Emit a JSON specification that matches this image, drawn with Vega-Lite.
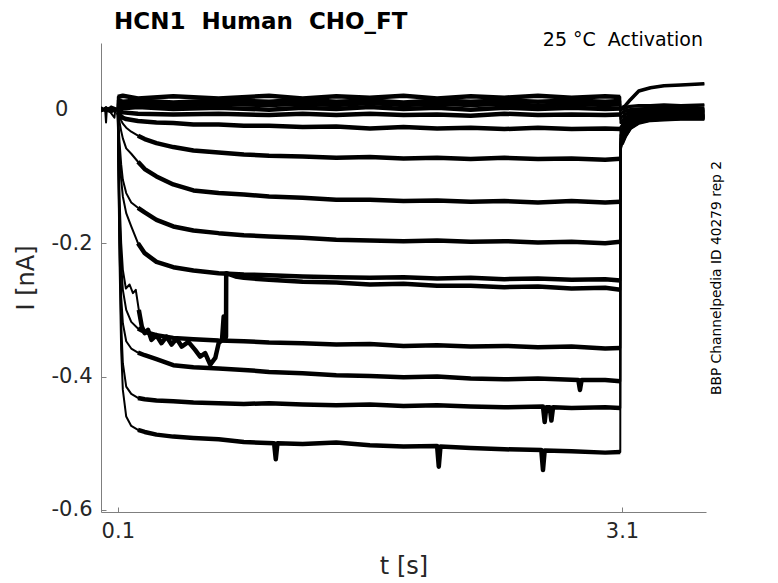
{
  "$schema": "https://vega.github.io/schema/vega-lite/v6.json",
  "width": 605,
  "height": 469,
  "autosize": {"type": "none"},
  "padding": {"left": 101, "top": 43, "right": 72, "bottom": 71},
  "background": "white",
  "title": {
    "text": "HCN1 \u00a0Human \u00a0CHO_FT",
    "anchor": "start",
    "frame": "group",
    "font": "DejaVu Sans",
    "fontSize": 23,
    "fontWeight": "bold",
    "color": "black",
    "baseline": "alphabetic",
    "offset": 4,
    "dx": 13,
    "dy": 25
  },
  "config": {
    "view": {"stroke": null},
    "font": "DejaVu Sans",
    "axis": {
      "grid": false,
      "domainColor": "#7f7f7f",
      "tickColor": "#7f7f7f",
      "labelColor": "#262626",
      "titleColor": "#262626",
      "labelFont": "DejaVu Sans",
      "titleFont": "DejaVu Sans",
      "titleFontWeight": "normal",
      "labelFontSize": 21,
      "titleFontSize": 24,
      "tickSize": -5,
      "domainWidth": 1
    }
  },
  "datasets": {
    "traces": [
      {"k":1,"t":0,"i":0.004},{"k":1,"t":0.03,"i":-0.002},{"k":1,"t":0.06,"i":0.005},{"k":1,"t":0.099,"i":0.001},
      {"k":1,"t":0.1,"i":0.019},{"k":1,"t":0.13,"i":0.021},{"k":1,"t":0.22,"i":0.017},{"k":1,"t":0.43,"i":0.02},{"k":1,"t":0.7,"i":0.017},{"k":1,"t":1.0,"i":0.021},{"k":1,"t":1.2,"i":0.017},{"k":1,"t":1.4,"i":0.02},{"k":1,"t":1.6,"i":0.018},{"k":1,"t":1.8,"i":0.021},{"k":1,"t":2.0,"i":0.017},{"k":1,"t":2.2,"i":0.02},{"k":1,"t":2.4,"i":0.018},{"k":1,"t":2.6,"i":0.021},{"k":1,"t":2.8,"i":0.018},{"k":1,"t":3.0,"i":0.02},{"k":1,"t":3.09,"i":0.019},
      {"k":1,"t":3.091,"i":0.002},{"k":1,"t":3.1,"i":0.003},{"k":1,"t":3.12,"i":0.006},{"k":1,"t":3.15,"i":0.015},{"k":1,"t":3.2,"i":0.028},{"k":1,"t":3.27,"i":0.033},{"k":1,"t":3.35,"i":0.036},{"k":1,"t":3.45,"i":0.037},{"k":1,"t":3.59,"i":0.039},

      {"k":2,"t":0,"i":-0.002},{"k":2,"t":0.03,"i":0.004},{"k":2,"t":0.06,"i":-0.003},{"k":2,"t":0.099,"i":0.002},
      {"k":2,"t":0.1,"i":0.014},{"k":2,"t":0.13,"i":0.012},{"k":2,"t":0.22,"i":0.014},{"k":2,"t":0.43,"i":0.011},{"k":2,"t":0.7,"i":0.014},{"k":2,"t":1.0,"i":0.012},{"k":2,"t":1.2,"i":0.015},{"k":2,"t":1.4,"i":0.012},{"k":2,"t":1.6,"i":0.014},{"k":2,"t":1.8,"i":0.011},{"k":2,"t":2.0,"i":0.014},{"k":2,"t":2.2,"i":0.012},{"k":2,"t":2.4,"i":0.014},{"k":2,"t":2.6,"i":0.012},{"k":2,"t":2.8,"i":0.014},{"k":2,"t":3.0,"i":0.012},{"k":2,"t":3.09,"i":0.013},
      {"k":2,"t":3.091,"i":-0.002},{"k":2,"t":3.1,"i":0.0},{"k":2,"t":3.12,"i":0.003},{"k":2,"t":3.15,"i":0.005},{"k":2,"t":3.2,"i":0.006},{"k":2,"t":3.27,"i":0.006},{"k":2,"t":3.35,"i":0.007},{"k":2,"t":3.45,"i":0.006},{"k":2,"t":3.59,"i":0.007},

      {"k":3,"t":0,"i":0.001},{"k":3,"t":0.025,"i":-0.001},{"k":3,"t":0.03,"i":-0.019},{"k":3,"t":0.035,"i":0.002},{"k":3,"t":0.06,"i":-0.004},{"k":3,"t":0.099,"i":0.0},
      {"k":3,"t":0.1,"i":0.009},{"k":3,"t":0.13,"i":0.007},{"k":3,"t":0.22,"i":0.009},{"k":3,"t":0.43,"i":0.006},{"k":3,"t":0.7,"i":0.009},{"k":3,"t":1.0,"i":0.007},{"k":3,"t":1.2,"i":0.009},{"k":3,"t":1.4,"i":0.007},{"k":3,"t":1.6,"i":0.01},{"k":3,"t":1.8,"i":0.007},{"k":3,"t":2.0,"i":0.009},{"k":3,"t":2.2,"i":0.007},{"k":3,"t":2.4,"i":0.009},{"k":3,"t":2.6,"i":0.006},{"k":3,"t":2.8,"i":0.009},{"k":3,"t":3.0,"i":0.007},{"k":3,"t":3.09,"i":0.008},
      {"k":3,"t":3.091,"i":-0.008},{"k":3,"t":3.1,"i":-0.005},{"k":3,"t":3.12,"i":-0.002},{"k":3,"t":3.15,"i":0.0},{"k":3,"t":3.2,"i":0.001},{"k":3,"t":3.27,"i":0.002},{"k":3,"t":3.35,"i":0.002},{"k":3,"t":3.45,"i":0.003},{"k":3,"t":3.59,"i":0.002},

      {"k":4,"t":0,"i":0.0},{"k":4,"t":0.03,"i":0.003},{"k":4,"t":0.06,"i":-0.005},{"k":4,"t":0.08,"i":-0.012},{"k":4,"t":0.085,"i":0.0},{"k":4,"t":0.099,"i":-0.001},
      {"k":4,"t":0.1,"i":0.004},{"k":4,"t":0.13,"i":0.002},{"k":4,"t":0.22,"i":0.004},{"k":4,"t":0.43,"i":0.001},{"k":4,"t":0.7,"i":0.003},{"k":4,"t":1.0,"i":0.0},{"k":4,"t":1.2,"i":0.003},{"k":4,"t":1.4,"i":0.001},{"k":4,"t":1.6,"i":0.004},{"k":4,"t":1.8,"i":0.001},{"k":4,"t":2.0,"i":0.003},{"k":4,"t":2.2,"i":0.0},{"k":4,"t":2.4,"i":0.003},{"k":4,"t":2.6,"i":0.001},{"k":4,"t":2.8,"i":0.003},{"k":4,"t":3.0,"i":0.001},{"k":4,"t":3.09,"i":0.002},
      {"k":4,"t":3.091,"i":-0.014},{"k":4,"t":3.1,"i":-0.011},{"k":4,"t":3.12,"i":-0.007},{"k":4,"t":3.15,"i":-0.004},{"k":4,"t":3.2,"i":-0.002},{"k":4,"t":3.27,"i":-0.001},{"k":4,"t":3.35,"i":0.0},{"k":4,"t":3.45,"i":-0.001},{"k":4,"t":3.59,"i":0.0},

      {"k":5,"t":0,"i":-0.003},{"k":5,"t":0.03,"i":0.002},{"k":5,"t":0.06,"i":0.001},{"k":5,"t":0.099,"i":0.0},
      {"k":5,"t":0.1,"i":-0.002},{"k":5,"t":0.13,"i":-0.004},{"k":5,"t":0.22,"i":-0.006},{"k":5,"t":0.43,"i":-0.007},{"k":5,"t":0.7,"i":-0.006},{"k":5,"t":1.0,"i":-0.008},{"k":5,"t":1.2,"i":-0.006},{"k":5,"t":1.4,"i":-0.008},{"k":5,"t":1.6,"i":-0.006},{"k":5,"t":1.8,"i":-0.008},{"k":5,"t":2.0,"i":-0.007},{"k":5,"t":2.2,"i":-0.009},{"k":5,"t":2.4,"i":-0.006},{"k":5,"t":2.6,"i":-0.008},{"k":5,"t":2.8,"i":-0.007},{"k":5,"t":3.0,"i":-0.008},{"k":5,"t":3.09,"i":-0.007},
      {"k":5,"t":3.091,"i":-0.02},{"k":5,"t":3.1,"i":-0.017},{"k":5,"t":3.12,"i":-0.012},{"k":5,"t":3.15,"i":-0.008},{"k":5,"t":3.2,"i":-0.005},{"k":5,"t":3.27,"i":-0.004},{"k":5,"t":3.35,"i":-0.003},{"k":5,"t":3.45,"i":-0.003},{"k":5,"t":3.59,"i":-0.002},

      {"k":6,"t":0,"i":0.002},{"k":6,"t":0.03,"i":-0.003},{"k":6,"t":0.06,"i":0.003},{"k":6,"t":0.099,"i":0.0},
      {"k":6,"t":0.1,"i":-0.004},{"k":6,"t":0.11,"i":-0.008},{"k":6,"t":0.13,"i":-0.012},{"k":6,"t":0.15,"i":-0.014},{"k":6,"t":0.22,"i":-0.017},{"k":6,"t":0.33,"i":-0.019},{"k":6,"t":0.43,"i":-0.02},{"k":6,"t":0.55,"i":-0.022},{"k":6,"t":0.7,"i":-0.022},{"k":6,"t":0.85,"i":-0.024},{"k":6,"t":1.0,"i":-0.024},{"k":6,"t":1.2,"i":-0.026},{"k":6,"t":1.4,"i":-0.025},{"k":6,"t":1.6,"i":-0.028},{"k":6,"t":1.8,"i":-0.026},{"k":6,"t":2.0,"i":-0.028},{"k":6,"t":2.2,"i":-0.027},{"k":6,"t":2.4,"i":-0.029},{"k":6,"t":2.6,"i":-0.027},{"k":6,"t":2.8,"i":-0.029},{"k":6,"t":3.0,"i":-0.028},{"k":6,"t":3.09,"i":-0.029},
      {"k":6,"t":3.091,"i":-0.026},{"k":6,"t":3.1,"i":-0.022},{"k":6,"t":3.12,"i":-0.016},{"k":6,"t":3.15,"i":-0.011},{"k":6,"t":3.2,"i":-0.007},{"k":6,"t":3.27,"i":-0.005},{"k":6,"t":3.35,"i":-0.004},{"k":6,"t":3.45,"i":-0.004},{"k":6,"t":3.59,"i":-0.003},

      {"k":7,"t":0,"i":-0.001},{"k":7,"t":0.03,"i":0.003},{"k":7,"t":0.06,"i":-0.002},{"k":7,"t":0.099,"i":0.001},
      {"k":7,"t":0.1,"i":-0.002},{"k":7,"t":0.105,"i":-0.006},{"k":7,"t":0.11,"i":-0.01},{"k":7,"t":0.12,"i":-0.016},{"k":7,"t":0.13,"i":-0.021},{"k":7,"t":0.15,"i":-0.027},{"k":7,"t":0.18,"i":-0.033},{"k":7,"t":0.22,"i":-0.039},{"k":7,"t":0.26,"i":-0.044},{"k":7,"t":0.33,"i":-0.05},{"k":7,"t":0.43,"i":-0.056},{"k":7,"t":0.55,"i":-0.061},{"k":7,"t":0.7,"i":-0.064},{"k":7,"t":0.85,"i":-0.067},{"k":7,"t":1.0,"i":-0.069},{"k":7,"t":1.2,"i":-0.07},{"k":7,"t":1.4,"i":-0.072},{"k":7,"t":1.6,"i":-0.071},{"k":7,"t":1.8,"i":-0.073},{"k":7,"t":2.0,"i":-0.072},{"k":7,"t":2.2,"i":-0.074},{"k":7,"t":2.4,"i":-0.072},{"k":7,"t":2.6,"i":-0.074},{"k":7,"t":2.8,"i":-0.073},{"k":7,"t":3.0,"i":-0.075},{"k":7,"t":3.09,"i":-0.0735},
      {"k":7,"t":3.091,"i":-0.032},{"k":7,"t":3.1,"i":-0.027},{"k":7,"t":3.12,"i":-0.02},{"k":7,"t":3.15,"i":-0.014},{"k":7,"t":3.2,"i":-0.009},{"k":7,"t":3.27,"i":-0.007},{"k":7,"t":3.35,"i":-0.006},{"k":7,"t":3.45,"i":-0.005},{"k":7,"t":3.59,"i":-0.005},

      {"k":8,"t":0,"i":0.003},{"k":8,"t":0.03,"i":-0.002},{"k":8,"t":0.06,"i":0.002},{"k":8,"t":0.099,"i":0.0},
      {"k":8,"t":0.1,"i":-0.003},{"k":8,"t":0.105,"i":-0.01},{"k":8,"t":0.11,"i":-0.018},{"k":8,"t":0.12,"i":-0.032},{"k":8,"t":0.13,"i":-0.043},{"k":8,"t":0.15,"i":-0.058},{"k":8,"t":0.18,"i":-0.066},{"k":8,"t":0.22,"i":-0.078},{"k":8,"t":0.26,"i":-0.089},{"k":8,"t":0.33,"i":-0.1},{"k":8,"t":0.43,"i":-0.112},{"k":8,"t":0.55,"i":-0.121},{"k":8,"t":0.7,"i":-0.125},{"k":8,"t":0.85,"i":-0.127},{"k":8,"t":1.0,"i":-0.13},{"k":8,"t":1.2,"i":-0.132},{"k":8,"t":1.4,"i":-0.135},{"k":8,"t":1.6,"i":-0.135},{"k":8,"t":1.8,"i":-0.137},{"k":8,"t":2.0,"i":-0.136},{"k":8,"t":2.2,"i":-0.138},{"k":8,"t":2.4,"i":-0.137},{"k":8,"t":2.6,"i":-0.139},{"k":8,"t":2.8,"i":-0.137},{"k":8,"t":3.0,"i":-0.139},{"k":8,"t":3.09,"i":-0.138},
      {"k":8,"t":3.091,"i":-0.038},{"k":8,"t":3.1,"i":-0.032},{"k":8,"t":3.12,"i":-0.024},{"k":8,"t":3.15,"i":-0.017},{"k":8,"t":3.2,"i":-0.011},{"k":8,"t":3.27,"i":-0.009},{"k":8,"t":3.35,"i":-0.008},{"k":8,"t":3.45,"i":-0.007},{"k":8,"t":3.59,"i":-0.007},

      {"k":9,"t":0,"i":-0.002},{"k":9,"t":0.05,"i":0.002},{"k":9,"t":0.099,"i":0.0},
      {"k":9,"t":0.1,"i":-0.004},{"k":9,"t":0.105,"i":-0.025},{"k":9,"t":0.11,"i":-0.048},{"k":9,"t":0.12,"i":-0.082},{"k":9,"t":0.13,"i":-0.105},{"k":9,"t":0.15,"i":-0.125},{"k":9,"t":0.18,"i":-0.139},{"k":9,"t":0.22,"i":-0.147},{"k":9,"t":0.26,"i":-0.154},{"k":9,"t":0.33,"i":-0.165},{"k":9,"t":0.43,"i":-0.175},{"k":9,"t":0.55,"i":-0.181},{"k":9,"t":0.7,"i":-0.185},{"k":9,"t":0.85,"i":-0.188},{"k":9,"t":1.0,"i":-0.19},{"k":9,"t":1.2,"i":-0.192},{"k":9,"t":1.4,"i":-0.195},{"k":9,"t":1.6,"i":-0.196},{"k":9,"t":1.8,"i":-0.197},{"k":9,"t":2.0,"i":-0.196},{"k":9,"t":2.2,"i":-0.198},{"k":9,"t":2.4,"i":-0.197},{"k":9,"t":2.6,"i":-0.199},{"k":9,"t":2.8,"i":-0.198},{"k":9,"t":3.0,"i":-0.2},{"k":9,"t":3.09,"i":-0.198},
      {"k":9,"t":3.091,"i":-0.044},{"k":9,"t":3.1,"i":-0.037},{"k":9,"t":3.12,"i":-0.028},{"k":9,"t":3.15,"i":-0.02},{"k":9,"t":3.2,"i":-0.013},{"k":9,"t":3.27,"i":-0.01},{"k":9,"t":3.35,"i":-0.009},{"k":9,"t":3.45,"i":-0.008},{"k":9,"t":3.59,"i":-0.008},

      {"k":10,"t":0,"i":0.001},{"k":10,"t":0.05,"i":-0.003},{"k":10,"t":0.099,"i":0.001},
      {"k":10,"t":0.1,"i":-0.005},{"k":10,"t":0.105,"i":-0.035},{"k":10,"t":0.11,"i":-0.065},{"k":10,"t":0.12,"i":-0.105},{"k":10,"t":0.13,"i":-0.13},{"k":10,"t":0.15,"i":-0.155},{"k":10,"t":0.18,"i":-0.175},{"k":10,"t":0.22,"i":-0.2},{"k":10,"t":0.26,"i":-0.215},{"k":10,"t":0.33,"i":-0.228},{"k":10,"t":0.43,"i":-0.236},{"k":10,"t":0.55,"i":-0.241},{"k":10,"t":0.7,"i":-0.245},{"k":10,"t":0.85,"i":-0.247},{"k":10,"t":1.0,"i":-0.248},{"k":10,"t":1.2,"i":-0.25},{"k":10,"t":1.4,"i":-0.251},{"k":10,"t":1.6,"i":-0.252},{"k":10,"t":1.8,"i":-0.251},{"k":10,"t":2.0,"i":-0.253},{"k":10,"t":2.2,"i":-0.252},{"k":10,"t":2.4,"i":-0.254},{"k":10,"t":2.6,"i":-0.253},{"k":10,"t":2.8,"i":-0.255},{"k":10,"t":3.0,"i":-0.254},{"k":10,"t":3.09,"i":-0.256},
      {"k":10,"t":3.091,"i":-0.049},{"k":10,"t":3.1,"i":-0.041},{"k":10,"t":3.12,"i":-0.031},{"k":10,"t":3.15,"i":-0.022},{"k":10,"t":3.2,"i":-0.015},{"k":10,"t":3.27,"i":-0.012},{"k":10,"t":3.35,"i":-0.01},{"k":10,"t":3.45,"i":-0.009},{"k":10,"t":3.59,"i":-0.009},

      {"k":11,"t":0,"i":0.0},{"k":11,"t":0.05,"i":0.003},{"k":11,"t":0.099,"i":-0.001},
      {"k":11,"t":0.1,"i":-0.004},{"k":11,"t":0.105,"i":-0.07},{"k":11,"t":0.11,"i":-0.13},{"k":11,"t":0.12,"i":-0.2},{"k":11,"t":0.13,"i":-0.24},{"k":11,"t":0.148,"i":-0.268},{"k":11,"t":0.17,"i":-0.262},{"k":11,"t":0.19,"i":-0.275},{"k":11,"t":0.207,"i":-0.27},{"k":11,"t":0.225,"i":-0.3},{"k":11,"t":0.243,"i":-0.325},{"k":11,"t":0.26,"i":-0.335},{"k":11,"t":0.28,"i":-0.33},{"k":11,"t":0.3,"i":-0.345},{"k":11,"t":0.33,"i":-0.338},{"k":11,"t":0.36,"i":-0.35},{"k":11,"t":0.39,"i":-0.34},{"k":11,"t":0.42,"i":-0.352},{"k":11,"t":0.45,"i":-0.343},{"k":11,"t":0.48,"i":-0.355},{"k":11,"t":0.52,"i":-0.348},{"k":11,"t":0.56,"i":-0.36},{"k":11,"t":0.59,"i":-0.37},{"k":11,"t":0.62,"i":-0.365},{"k":11,"t":0.65,"i":-0.382},{"k":11,"t":0.68,"i":-0.372},{"k":11,"t":0.7,"i":-0.35},{"k":11,"t":0.72,"i":-0.345},{"k":11,"t":0.73,"i":-0.31},{"k":11,"t":0.738,"i":-0.345},{"k":11,"t":0.744,"i":-0.34},{"k":11,"t":0.745,"i":-0.245},{"k":11,"t":0.8,"i":-0.25},{"k":11,"t":0.85,"i":-0.252},{"k":11,"t":1.0,"i":-0.255},{"k":11,"t":1.2,"i":-0.258},{"k":11,"t":1.4,"i":-0.259},{"k":11,"t":1.6,"i":-0.262},{"k":11,"t":1.8,"i":-0.261},{"k":11,"t":2.0,"i":-0.264},{"k":11,"t":2.2,"i":-0.264},{"k":11,"t":2.4,"i":-0.266},{"k":11,"t":2.6,"i":-0.265},{"k":11,"t":2.8,"i":-0.268},{"k":11,"t":3.0,"i":-0.267},{"k":11,"t":3.09,"i":-0.27},
      {"k":11,"t":3.091,"i":-0.052},{"k":11,"t":3.1,"i":-0.043},{"k":11,"t":3.12,"i":-0.033},{"k":11,"t":3.15,"i":-0.023},{"k":11,"t":3.2,"i":-0.016},{"k":11,"t":3.27,"i":-0.012},{"k":11,"t":3.35,"i":-0.011},{"k":11,"t":3.45,"i":-0.01},{"k":11,"t":3.59,"i":-0.01},

      {"k":12,"t":0,"i":-0.001},{"k":12,"t":0.05,"i":0.002},{"k":12,"t":0.099,"i":0.0},
      {"k":12,"t":0.1,"i":-0.005},{"k":12,"t":0.105,"i":-0.08},{"k":12,"t":0.11,"i":-0.15},{"k":12,"t":0.12,"i":-0.23},{"k":12,"t":0.13,"i":-0.27},{"k":12,"t":0.15,"i":-0.3},{"k":12,"t":0.18,"i":-0.318},{"k":12,"t":0.22,"i":-0.328},{"k":12,"t":0.26,"i":-0.333},{"k":12,"t":0.33,"i":-0.338},{"k":12,"t":0.43,"i":-0.342},{"k":12,"t":0.55,"i":-0.344},{"k":12,"t":0.7,"i":-0.346},{"k":12,"t":0.85,"i":-0.347},{"k":12,"t":1.0,"i":-0.349},{"k":12,"t":1.2,"i":-0.35},{"k":12,"t":1.4,"i":-0.352},{"k":12,"t":1.6,"i":-0.351},{"k":12,"t":1.8,"i":-0.354},{"k":12,"t":2.0,"i":-0.353},{"k":12,"t":2.2,"i":-0.355},{"k":12,"t":2.4,"i":-0.354},{"k":12,"t":2.6,"i":-0.356},{"k":12,"t":2.8,"i":-0.355},{"k":12,"t":3.0,"i":-0.358},{"k":12,"t":3.09,"i":-0.357},
      {"k":12,"t":3.091,"i":-0.055},{"k":12,"t":3.1,"i":-0.046},{"k":12,"t":3.12,"i":-0.035},{"k":12,"t":3.15,"i":-0.025},{"k":12,"t":3.2,"i":-0.017},{"k":12,"t":3.27,"i":-0.013},{"k":12,"t":3.35,"i":-0.012},{"k":12,"t":3.45,"i":-0.011},{"k":12,"t":3.59,"i":-0.011},

      {"k":13,"t":0,"i":0.002},{"k":13,"t":0.05,"i":-0.002},{"k":13,"t":0.099,"i":0.001},
      {"k":13,"t":0.1,"i":-0.005},{"k":13,"t":0.105,"i":-0.1},{"k":13,"t":0.11,"i":-0.18},{"k":13,"t":0.12,"i":-0.28},{"k":13,"t":0.13,"i":-0.32},{"k":13,"t":0.15,"i":-0.347},{"k":13,"t":0.18,"i":-0.358},{"k":13,"t":0.22,"i":-0.364},{"k":13,"t":0.26,"i":-0.368},{"k":13,"t":0.33,"i":-0.374},{"k":13,"t":0.43,"i":-0.383},{"k":13,"t":0.55,"i":-0.386},{"k":13,"t":0.7,"i":-0.388},{"k":13,"t":0.85,"i":-0.39},{"k":13,"t":1.0,"i":-0.393},{"k":13,"t":1.2,"i":-0.395},{"k":13,"t":1.4,"i":-0.398},{"k":13,"t":1.6,"i":-0.399},{"k":13,"t":1.8,"i":-0.401},{"k":13,"t":2.0,"i":-0.4},{"k":13,"t":2.2,"i":-0.403},{"k":13,"t":2.4,"i":-0.404},{"k":13,"t":2.6,"i":-0.403},{"k":13,"t":2.84,"i":-0.405},{"k":13,"t":2.85,"i":-0.42},{"k":13,"t":2.86,"i":-0.405},{"k":13,"t":3.0,"i":-0.405},{"k":13,"t":3.09,"i":-0.407},
      {"k":13,"t":3.091,"i":-0.058},{"k":13,"t":3.1,"i":-0.048},{"k":13,"t":3.12,"i":-0.037},{"k":13,"t":3.15,"i":-0.026},{"k":13,"t":3.2,"i":-0.018},{"k":13,"t":3.27,"i":-0.014},{"k":13,"t":3.35,"i":-0.013},{"k":13,"t":3.45,"i":-0.012},{"k":13,"t":3.59,"i":-0.012},

      {"k":14,"t":0,"i":-0.002},{"k":14,"t":0.05,"i":0.001},{"k":14,"t":0.099,"i":0.0},
      {"k":14,"t":0.1,"i":-0.005},{"k":14,"t":0.105,"i":-0.11},{"k":14,"t":0.11,"i":-0.2},{"k":14,"t":0.12,"i":-0.32},{"k":14,"t":0.13,"i":-0.38},{"k":14,"t":0.15,"i":-0.415},{"k":14,"t":0.18,"i":-0.426},{"k":14,"t":0.22,"i":-0.432},{"k":14,"t":0.26,"i":-0.434},{"k":14,"t":0.33,"i":-0.436},{"k":14,"t":0.43,"i":-0.437},{"k":14,"t":0.55,"i":-0.439},{"k":14,"t":0.7,"i":-0.44},{"k":14,"t":0.85,"i":-0.441},{"k":14,"t":1.0,"i":-0.44},{"k":14,"t":1.2,"i":-0.442},{"k":14,"t":1.4,"i":-0.443},{"k":14,"t":1.6,"i":-0.442},{"k":14,"t":1.8,"i":-0.444},{"k":14,"t":2.0,"i":-0.443},{"k":14,"t":2.2,"i":-0.445},{"k":14,"t":2.4,"i":-0.446},{"k":14,"t":2.63,"i":-0.445},{"k":14,"t":2.64,"i":-0.468},{"k":14,"t":2.65,"i":-0.446},{"k":14,"t":2.67,"i":-0.446},{"k":14,"t":2.68,"i":-0.466},{"k":14,"t":2.69,"i":-0.446},{"k":14,"t":2.8,"i":-0.447},{"k":14,"t":3.0,"i":-0.446},{"k":14,"t":3.09,"i":-0.447},
      {"k":14,"t":3.091,"i":-0.06},{"k":14,"t":3.1,"i":-0.05},{"k":14,"t":3.12,"i":-0.039},{"k":14,"t":3.15,"i":-0.027},{"k":14,"t":3.2,"i":-0.019},{"k":14,"t":3.27,"i":-0.015},{"k":14,"t":3.35,"i":-0.014},{"k":14,"t":3.45,"i":-0.013},{"k":14,"t":3.59,"i":-0.013},

      {"k":15,"t":0,"i":0.001},{"k":15,"t":0.05,"i":-0.001},{"k":15,"t":0.099,"i":0.0},
      {"k":15,"t":0.1,"i":-0.005},{"k":15,"t":0.105,"i":-0.12},{"k":15,"t":0.11,"i":-0.22},{"k":15,"t":0.12,"i":-0.36},{"k":15,"t":0.13,"i":-0.42},{"k":15,"t":0.15,"i":-0.46},{"k":15,"t":0.18,"i":-0.474},{"k":15,"t":0.22,"i":-0.48},{"k":15,"t":0.26,"i":-0.483},{"k":15,"t":0.33,"i":-0.487},{"k":15,"t":0.43,"i":-0.49},{"k":15,"t":0.55,"i":-0.492},{"k":15,"t":0.7,"i":-0.494},{"k":15,"t":0.85,"i":-0.498},{"k":15,"t":1.03,"i":-0.5},{"k":15,"t":1.04,"i":-0.524},{"k":15,"t":1.05,"i":-0.5},{"k":15,"t":1.2,"i":-0.501},{"k":15,"t":1.4,"i":-0.499},{"k":15,"t":1.6,"i":-0.503},{"k":15,"t":1.8,"i":-0.505},{"k":15,"t":2.0,"i":-0.504},{"k":15,"t":2.01,"i":-0.535},{"k":15,"t":2.02,"i":-0.505},{"k":15,"t":2.2,"i":-0.507},{"k":15,"t":2.4,"i":-0.509},{"k":15,"t":2.62,"i":-0.51},{"k":15,"t":2.63,"i":-0.54},{"k":15,"t":2.64,"i":-0.511},{"k":15,"t":2.8,"i":-0.512},{"k":15,"t":3.0,"i":-0.514},{"k":15,"t":3.09,"i":-0.513},
      {"k":15,"t":3.091,"i":-0.062},{"k":15,"t":3.1,"i":-0.052},{"k":15,"t":3.12,"i":-0.04},{"k":15,"t":3.15,"i":-0.028},{"k":15,"t":3.2,"i":-0.02},{"k":15,"t":3.27,"i":-0.016},{"k":15,"t":3.35,"i":-0.015},{"k":15,"t":3.45,"i":-0.014},{"k":15,"t":3.59,"i":-0.014}
    ],
    "notes": [
      {"label": "25 °C \u00a0Activation"}
    ]
  },
  "layer": [
    {
      "data": {"name": "traces"},
      "mark": {"type": "line", "color": "black", "strokeWidth": 2, "strokeJoin": "round", "clip": true},
      "encoding": {
        "x": {
          "field": "t",
          "type": "quantitative",
          "scale": {"domain": [0, 3.6], "nice": false, "zero": false},
          "axis": {
            "values": [0.1, 3.1],
            "labelExpr": "format(datum.value, '.1f')",
            "title": "t [s]",
            "labelPadding": 13,
            "titlePadding": 13
          }
        },
        "y": {
          "field": "i",
          "type": "quantitative",
          "scale": {"domain": [-0.603, 0.1], "nice": false, "zero": false},
          "axis": {
            "values": [0, -0.2, -0.4, -0.6],
            "labelExpr": "datum.value == 0 ? '0\u2007\u00a0\u2009\u200b' : '-' + format(-datum.value, '.1f')",
            "title": "I [nA]",
            "labelPadding": 14,
            "titlePadding": 13
          }
        },
        "detail": {"field": "k", "type": "nominal"}
      }
    },
    {
      "data": {"name": "traces"},
      "transform": [{"filter": "(datum.t >= 0.22 || datum.k <= 6) && datum.t >= 0.1 && datum.t <= 3.09"}],
      "mark": {"type": "line", "color": "black", "strokeWidth": 4.5, "strokeJoin": "round", "clip": true},
      "encoding": {
        "x": {"field": "t", "type": "quantitative"},
        "y": {"field": "i", "type": "quantitative", "axis": null},
        "detail": {"field": "k", "type": "nominal"}
      }
    },
    {
      "data": {"name": "traces"},
      "transform": [{"filter": "datum.t >= 3.1"}],
      "mark": {"type": "line", "color": "black", "strokeWidth": 3.5, "strokeJoin": "round", "clip": true},
      "encoding": {
        "x": {"field": "t", "type": "quantitative"},
        "y": {"field": "i", "type": "quantitative", "axis": null},
        "detail": {"field": "k", "type": "nominal"}
      }
    },
    {
      "data": {"name": "notes"},
      "mark": {
        "type": "text",
        "align": "right",
        "baseline": "alphabetic",
        "font": "DejaVu Sans",
        "fontSize": 19,
        "color": "black"
      },
      "encoding": {
        "text": {"field": "label"},
        "x": {"datum": 3.582, "type": "quantitative"},
        "y": {
          "datum": 0.095,
          "type": "quantitative",
          "axis": {
            "orient": "right",
            "title": "BBP Channelpedia ID 40279 rep 2",
            "titleFontSize": 13.8,
            "titleColor": "black",
            "titleAngle": 270,
            "titlePadding": 17,
            "labels": false,
            "ticks": false,
            "domain": false
          }
        }
      }
    }
  ],
  "resolve": {"axis": {"y": "independent"}}
}
